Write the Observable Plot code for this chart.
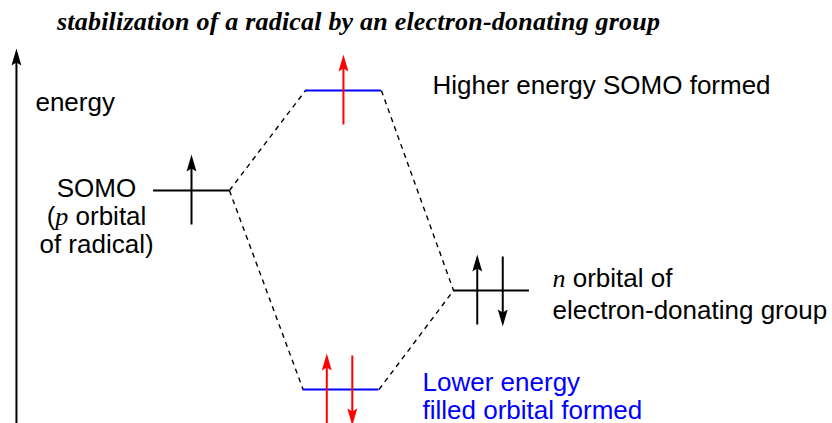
<!DOCTYPE html>
<html><head><meta charset="utf-8">
<script src="https://cdn.jsdelivr.net/npm/d3@7"></script>
<script src="https://cdn.jsdelivr.net/npm/@observablehq/plot@0.6"></script>
<style>
body{margin:0;background:#fff;width:832px;height:423px;overflow:hidden;}
#title{height:40px;box-sizing:border-box;padding-top:7px;line-height:32px;padding-left:57px;font:italic bold 26px "Liberation Serif","Times New Roman",serif;white-space:nowrap;color:#000;}
#chart svg{display:block;}
</style></head><body>
<div id="title"><span id="t">stabilization of a radical by an electron-donating group</span></div>
<div id="chart"></div>
<script>
// ---- data ----
const levelNames  = ["SOMO", "Higher energy SOMO", "Lower energy filled orbital", "n orbital"];
const levelColumn = [0, 1.013, 0.997, 2];        // position along the diagram
const levelEnergy = [1, 2, -0.99, 0];            // relative energy
const levelFormed = [false, true, true, false];  // new (combined) orbital?

const electronLevel = ["SOMO", "Higher energy SOMO", "Lower energy filled orbital", "Lower energy filled orbital", "n orbital", "n orbital"];
const electronSpin  = ["up", "up", "up", "down", "up", "down"];

const connectionFrom = ["SOMO", "SOMO", "Higher energy SOMO", "Lower energy filled orbital"];
const connectionTo   = ["Higher energy SOMO", "Lower energy filled orbital", "n orbital", "n orbital"];

const labelLevel = ["SOMO", "Higher energy SOMO", "n orbital", "Lower energy filled orbital"];
const labelText  = ["SOMO\n({p} orbital\nof radical)", "Higher energy SOMO formed", "{n} orbital of\nelectron-donating group", "Lower energy\nfilled orbital formed"];

const axisLabel = ["energy"];
const axisColumn = [-1.167];
const axisEnergy = [-1.33, 2.42];

// ---- derived tables ----
const levels = levelNames.map((name, i) => ({name, col: levelColumn[i], energy: levelEnergy[i], formed: levelFormed[i]}));
const byName = new Map(levels.map(d => [d.name, d]));
const HALF = 0.253;

const electrons = electronLevel.map((l, i) => {
  const lv = byName.get(l);
  const paired = electronLevel.filter(x => x === l).length === 2;
  const up = electronSpin[i] === "up";
  const off = paired ? (up ? -0.095 : 0.075) : 0;
  const dir = up ? 1 : -1;
  return {x: lv.col + off, up, tip: lv.energy + dir * 0.36, tail: lv.energy - dir * 0.34,
          shaftEnd: lv.energy + dir * 0.26, color: lv.formed ? "#ff0000" : "#000000"};
});

const connections = connectionFrom.map((f, i) => {
  const a = byName.get(f), b = byName.get(connectionTo[i]);
  return {x1: a.col + HALF, y1: a.energy, x2: b.col - HALF, y2: b.energy};
});

const axis = [{x: axisColumn[0], y1: axisEnergy[0], y2: axisEnergy[1] - 0.1, tip: axisEnergy[1], label: axisLabel[0]}];

const headUp = {draw(ctx, size) {
  const r = Math.sqrt(size / Math.PI);
  ctx.moveTo(0, 0); ctx.lineTo(0.29 * r, r); ctx.lineTo(0, 0.82 * r); ctx.lineTo(-0.29 * r, r); ctx.closePath();
}};
const headDown = {draw(ctx, size) {
  const r = Math.sqrt(size / Math.PI);
  ctx.moveTo(0, 0); ctx.lineTo(0.29 * r, -r); ctx.lineTo(0, -0.82 * r); ctx.lineTo(-0.29 * r, -r); ctx.closePath();
}};

const FONT = "Liberation Sans, Arial, Helvetica, sans-serif";
const lab = name => [byName.get(name)];
const labelOf = name => labelText[labelLevel.indexOf(name)];

const plot = Plot.plot({
  width: 832, height: 383,
  marginTop: 0, marginRight: 0, marginBottom: 0, marginLeft: 0,
  x: {domain: [-191 / 150, 641 / 150], axis: null},
  y: {domain: [-1.33, 2.5], axis: null},
  style: {background: "white", overflow: "visible"},
  marks: [
    // energy axis
    Plot.link(axis, {x1: "x", x2: "x", y1: "y1", y2: "y2", stroke: "#000", strokeWidth: 2}),
    Plot.dot(axis, {x: "x", y: "tip", r: 17, symbol: headUp, fill: "#000", stroke: null}),
    Plot.text(axis, {x: "x", y: "tip", text: "label", dx: 19, dy: 62, textAnchor: "start", lineAnchor: "bottom", fontSize: 26, fontFamily: FONT, fill: "#000"}),
    // correlation lines
    Plot.link(connections, {x1: "x1", y1: "y1", x2: "x2", y2: "y2", stroke: "#000", strokeWidth: 1.4, strokeDasharray: "5,4.5"}),
    // levels
    Plot.ruleY(levels, {y: "energy", x1: d => d.col - HALF, x2: d => d.col + HALF, stroke: d => d.formed ? "#0000ff" : "#000000", strokeWidth: 2}),
    // electrons
    Plot.link(electrons, {x1: "x", x2: "x", y1: "tail", y2: "shaftEnd", stroke: "color", strokeWidth: 2}),
    Plot.dot(electrons.filter(d => d.up), {x: "x", y: "tip", r: 17, symbol: headUp, fill: "color", stroke: null}),
    Plot.dot(electrons.filter(d => !d.up), {x: "x", y: "tip", r: 17, symbol: headDown, fill: "color", stroke: null}),
    // labels
    Plot.text(lab("SOMO"), {x: "col", y: "energy", text: () => labelOf("SOMO"), dx: -95, dy: 62, textAnchor: "middle", lineAnchor: "bottom", lineHeight: 28 / 26, fontSize: 26, fontFamily: FONT, fill: "#000"}),
    Plot.text(lab("Higher energy SOMO"), {x: "col", y: "energy", text: () => labelOf("Higher energy SOMO"), dx: 89, dy: 3, textAnchor: "start", lineAnchor: "bottom", fontSize: 26, fontFamily: FONT, fill: "#000"}),
    Plot.text(lab("n orbital"), {x: "col", y: "energy", text: () => labelOf("n orbital"), dx: 61, dy: 28, textAnchor: "start", lineAnchor: "bottom", lineHeight: 32 / 26, fontSize: 26, fontFamily: FONT, fill: "#000"}),
    Plot.text(lab("Lower energy filled orbital"), {x: "col", y: "energy", text: () => labelOf("Lower energy filled orbital"), dx: 81.5, dy: 29, textAnchor: "start", lineAnchor: "bottom", lineHeight: 28 / 26, fontSize: 26, fontFamily: FONT, fill: "#0000ff"})
  ]
});

// italic serif variable letters marked as {x}
function italicize(root) {
  const walker = document.createTreeWalker(root, NodeFilter.SHOW_TEXT);
  const nodes = [];
  while (walker.nextNode()) nodes.push(walker.currentNode);
  const ns = "http://www.w3.org/2000/svg";
  for (const node of nodes) {
    const m = node.nodeValue.match(/^(.*)\{(.+?)\}(.*)$/);
    if (!m) continue;
    const parent = node.parentNode;
    const it = document.createElementNS(ns, "tspan");
    it.setAttribute("font-family", "Liberation Serif, Times New Roman, serif");
    it.setAttribute("font-style", "italic");
    it.textContent = m[2];
    parent.insertBefore(document.createTextNode(m[1]), node);
    parent.insertBefore(it, node);
    parent.insertBefore(document.createTextNode(m[3]), node);
    parent.removeChild(node);
  }
}
italicize(plot);
document.getElementById("chart").appendChild(plot);

// fit title width
const t = document.getElementById("t");
const w = t.getBoundingClientRect().width;
const n = t.textContent.length;
t.style.letterSpacing = ((603 - w) / (n - 1)) + "px";
</script>
</body></html>
